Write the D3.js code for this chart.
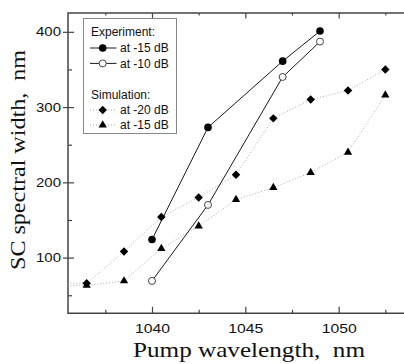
<!DOCTYPE html>
<html>
<head>
<meta charset="utf-8">
<script src="https://cdn.jsdelivr.net/npm/d3@7"></script>
<style>
  body { margin: 0; background: #fff; }
  svg { display: block; }
</style>
</head>
<body>
<div id="chart"></div>
<script>
// Experiment data (pump wavelength in nm, SC width in nm)
var expWavelengths = [1040, 1043, 1047, 1049];
var exp15dB = [124, 273, 361, 401];
var exp10dB = [69, 170, 340, 387];

// Simulation data, the first point sits left of the visible range
var simWavelengths = [1034.5, 1036.5, 1038.5, 1040.5, 1042.5, 1044.5, 1046.5, 1048.5, 1050.5, 1052.5];
var sim20dB = [66, 66, 108, 154, 180, 210, 285, 310, 322, 350];
var sim15dB = [62, 63, 69, 112, 142, 177, 193, 213, 240, 316];

// Tick values
var xMajorTicks = [1040, 1045, 1050];
var xMinorTicks = [1037.5, 1042.5, 1047.5, 1052.5];
var yMajorTicks = [100, 200, 300, 400];
var yMinorTicks = [50, 150, 250, 350];

var width = 404;
var height = 364;
// plot frame edges (window.top is reserved, so prefix these)
var plotLeft = 68, plotTop = 13, plotRight = 404, plotBottom = 313.3;

var svg = d3.select("#chart").append("svg")
    .attr("width", width)
    .attr("height", height);

var x = d3.scaleLinear().domain([1035.5, 1053.5]).range([plotLeft, plotRight]);
var y = d3.scaleLinear().domain([26, 425]).range([plotBottom, plotTop]);

// Clip the data to the plot frame
svg.append("clipPath").attr("id", "plotClip")
  .append("rect")
    .attr("x", plotLeft).attr("y", plotTop)
    .attr("width", width - plotLeft + 5).attr("height", plotBottom - plotTop);

// Axes: major/minor ticks drawn inward, labels only bottom and left
function styleAxis(g) {
  g.select(".domain").remove();
  g.selectAll(".tick line").attr("stroke", "#444").attr("stroke-width", 1.2);
  g.selectAll("text")
    .attr("font-family", "Liberation Sans, Arial, sans-serif")
    .attr("font-size", 13)
    .attr("fill", "#111");
}

svg.append("g")
    .attr("transform", "translate(0," + plotBottom + ")")
    .call(d3.axisBottom(x).tickValues(xMajorTicks).tickFormat(d3.format("d")).tickSize(-6.5).tickPadding(10.3))
    .call(styleAxis)
    .selectAll("text")
      .attr("textLength", 35)
      .attr("lengthAdjust", "spacingAndGlyphs");

svg.append("g")
    .attr("transform", "translate(0," + plotBottom + ")")
    .call(d3.axisBottom(x).tickValues(xMinorTicks).tickSize(-3.5).tickFormat(""))
    .call(styleAxis);

svg.append("g")
    .attr("transform", "translate(0," + plotTop + ")")
    .call(d3.axisTop(x).tickValues(xMajorTicks).tickSize(-5.5).tickFormat(""))
    .call(styleAxis);

svg.append("g")
    .attr("transform", "translate(0," + plotTop + ")")
    .call(d3.axisTop(x).tickValues(xMinorTicks).tickSize(-2.5).tickFormat(""))
    .call(styleAxis);

// left axis: major ticks cross the axis line
svg.append("g")
    .attr("transform", "translate(" + plotLeft + ",0)")
    .call(d3.axisLeft(y).tickValues(yMajorTicks).tickFormat(d3.format("d")).tickSize(5).tickPadding(2))
    .call(styleAxis)
    .selectAll("text")
      .attr("textLength", 25)
      .attr("lengthAdjust", "spacingAndGlyphs");

svg.append("g")
    .attr("transform", "translate(" + plotLeft + ",0)")
    .call(d3.axisLeft(y).tickValues(yMajorTicks).tickSize(-6).tickFormat(""))
    .call(styleAxis);

svg.append("g")
    .attr("transform", "translate(" + plotLeft + ",0)")
    .call(d3.axisLeft(y).tickValues(yMinorTicks).tickSize(-4).tickFormat(""))
    .call(styleAxis);

// Frame (no right edge visible in the picture)
svg.append("path")
    .attr("d", "M" + (width + 2) + "," + plotTop + "H" + plotLeft + "V" + plotBottom + "H" + (width + 2))
    .attr("fill", "none")
    .attr("stroke", "#444")
    .attr("stroke-width", 1.5);

// Axis titles
svg.append("text")
    .attr("x", 249)
    .attr("y", 357.3)
    .attr("text-anchor", "middle")
    .attr("font-family", "Liberation Serif, Times New Roman, serif")
    .attr("font-size", 22)
    .attr("textLength", 232)
    .attr("lengthAdjust", "spacingAndGlyphs")
    .attr("fill", "#111")
    .style("white-space", "pre")
    .text("Pump wavelength,  nm");

svg.append("text")
    .attr("transform", "translate(25,160) rotate(-90)")
    .attr("text-anchor", "middle")
    .attr("font-family", "Liberation Serif, Times New Roman, serif")
    .attr("font-size", 20)
    .attr("textLength", 220)
    .attr("lengthAdjust", "spacingAndGlyphs")
    .attr("fill", "#111")
    .style("white-space", "pre")
    .text("SC spectral width,  nm");

// Data series
var plot = svg.append("g").attr("clip-path", "url(#plotClip)");

function toPoints(xs, ys) {
  return xs.map(function(d, i) { return {x: d, y: ys[i]}; });
}

var line = d3.line()
    .x(function(d) { return x(d.x); })
    .y(function(d) { return y(d.y); });

var diamond = d3.symbol().type(d3.symbolSquare).size(36);
var triangle = d3.symbol().type(d3.symbolTriangle).size(30);

var series = [
  {points: toPoints(simWavelengths, sim20dB), dotted: true, marker: "diamond"},
  {points: toPoints(simWavelengths, sim15dB), dotted: true, marker: "triangle"},
  {points: toPoints(expWavelengths, exp15dB), dotted: false, marker: "filled"},
  {points: toPoints(expWavelengths, exp10dB), dotted: false, marker: "open"}
];

// lines first so markers sit on top
series.forEach(function(s) {
  plot.append("path")
      .datum(s.points)
      .attr("d", line)
      .attr("fill", "none")
      .attr("stroke", s.dotted ? "#aaa" : "#1a1a1a")
      .attr("stroke-width", 1)
      .attr("stroke-dasharray", s.dotted ? "1,2" : null);
});

function drawMarker(g, type) {
  if (type == "diamond") {
    g.append("path").attr("d", diamond).attr("transform", "rotate(45)").attr("fill", "#000");
  } else if (type == "triangle") {
    g.append("path").attr("d", triangle).attr("fill", "#000");
  } else if (type == "filled") {
    g.append("circle").attr("r", 3.8).attr("fill", "#000");
  } else {
    g.append("circle").attr("r", 3.5).attr("fill", "#fff").attr("stroke", "#444").attr("stroke-width", 1);
  }
}

series.forEach(function(s) {
  plot.selectAll(null)
      .data(s.points.filter(function(d) { return d.x >= x.domain()[0]; }))
      .enter().append("g")
        .attr("transform", function(d) { return "translate(" + x(d.x) + "," + y(d.y) + ")"; })
        .each(function() { drawMarker(d3.select(this), s.marker); });
});

// Legend
var legend = svg.append("g");
legend.append("rect")
    .attr("x", 83.5).attr("y", 18.5)
    .attr("width", 93).attr("height", 115)
    .attr("fill", "#fff")
    .attr("stroke", "#888")
    .attr("stroke-width", 1);

var legendRows = [
  {label: "Experiment:", y: 35.7},
  {label: "at -15 dB", y: 52.3, marker: "filled", dotted: false},
  {label: "at -10 dB", y: 67.7, marker: "open", dotted: false},
  {label: "Simulation:", y: 99},
  {label: "at -20 dB", y: 114.3, marker: "diamond", dotted: true},
  {label: "at -15 dB", y: 129.3, marker: "triangle", dotted: true}
];

legendRows.forEach(function(r) {
  var tx = r.marker ? 120 : 91;
  if (r.marker) {
    var cy = r.y - 4.3;
    legend.append("line")
        .attr("x1", 90).attr("x2", 116.5)
        .attr("y1", cy).attr("y2", cy)
        .attr("stroke", r.dotted ? "#aaa" : "#1a1a1a")
        .attr("stroke-width", 1)
        .attr("stroke-dasharray", r.dotted ? "1,2" : null);
    var g = legend.append("g").attr("transform", "translate(102.7," + cy + ")");
    drawMarker(g, r.marker);
  }
  legend.append("text")
      .attr("x", tx).attr("y", r.y)
      .attr("font-family", "Liberation Sans, Arial, sans-serif")
      .attr("font-size", 12)
      .attr("fill", "#111")
      .text(r.label);
});
</script>
</body>
</html>
